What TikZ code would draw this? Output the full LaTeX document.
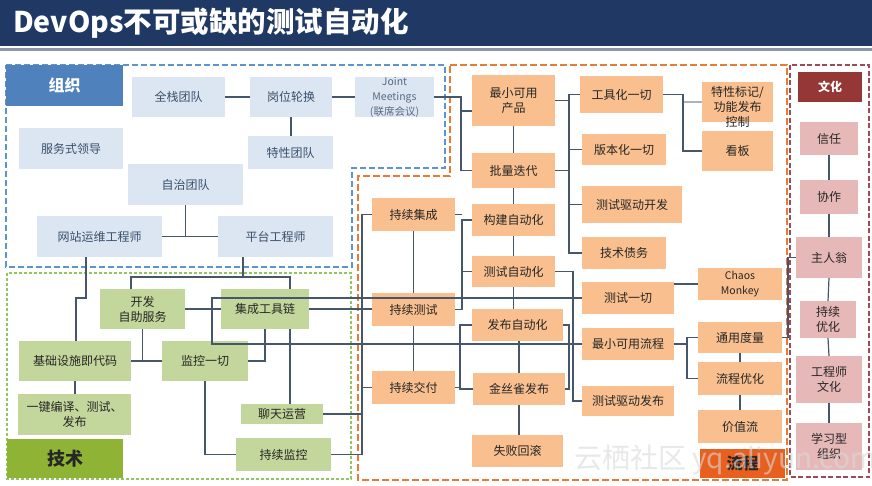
\documentclass[tikz,border=0pt]{standalone}
\usepackage{fontspec}
\setmainfont{Noto Sans CJK SC}
\definecolor{titlebg}{HTML}{1F3864}
\definecolor{titleline}{HTML}{8A97A6}
\definecolor{orgfill}{HTML}{DCE6F2}
\definecolor{orgtext}{HTML}{394F6B}
\definecolor{orglab}{HTML}{4F81BD}
\definecolor{orgdashc}{HTML}{5B93D3}
\definecolor{techfill}{HTML}{C3D69B}
\definecolor{techlab}{HTML}{8FB334}
\definecolor{techdashc}{HTML}{92C760}
\definecolor{procfill}{HTML}{F9BF8F}
\definecolor{procdashc}{HTML}{E97B32}
\definecolor{proclab}{HTML}{E8601F}
\definecolor{cultfill}{HTML}{E6B9B8}
\definecolor{cultlab}{HTML}{953735}
\definecolor{cultdashc}{HTML}{A04A55}
\definecolor{linecol}{HTML}{46566B}
\definecolor{darktext}{HTML}{262626}
\newcommand\bx[7]{\node[#1, minimum width={(#5-#3)*1pt}, minimum height={(#6-#4)*1pt}] (#2) at ({(#3+#5)/2},{(#4+#6)/2}) {#7};}
\tikzset{
  base/.style={inner sep=0pt, outer sep=0pt, align=center, font=\fontsize{12}{15}\selectfont},
  orgbox/.style={base, fill=orgfill, text=orgtext},
  techbox/.style={base, fill=techfill, text=darktext},
  procbox/.style={base, fill=procfill, text=darktext},
  cultbox/.style={base, fill=cultfill, text=darktext},
  small/.style={font=\fontsize{10.5}{15}\selectfont},
  conn/.style={draw=linecol, line width=1.2pt},
  lightconn/.style={draw=linecol!45, line width=1.2pt},
  orgdash/.style={draw=orgdashc, line width=2pt, dash pattern=on 6pt off 3pt},
  techdash/.style={draw=techdashc, line width=1.1pt, dash pattern=on 3pt off 2pt},
  procdash/.style={draw=procdashc, line width=2.4pt, dash pattern=on 7pt off 3pt},
  cultdash/.style={draw=cultdashc, line width=2pt, dash pattern=on 5pt off 2.5pt},
}
\begin{document}
\begin{tikzpicture}[x=1pt,y=-1pt]
\useasboundingbox (0,0) rectangle (872,485);
\fill[white] (0,0) rectangle (872,485);
% title
\fill[titlebg] (0,0) rectangle (872,46);
\fill[titleline] (0,48.3) rectangle (872,50.5);
\node[anchor=west, inner sep=0pt, text=white, font=\fontsize{28.5}{30}\selectfont\bfseries] (title) at (13,23) {DevOps不可或缺的测试自动化};

% regions
\draw[orgdash] (6,65) -- (445,65) -- (445,168) -- (352,168) -- (352,267) -- (6,267) -- cycle;
\draw[techdash] (7,273) rectangle (351,479);
\draw[procdash] (450,65) -- (787,65) -- (787,480) -- (358,480) -- (358,176) -- (450,176) -- cycle;
\draw[cultdash] (790,65) rectangle (869,477);

% region labels
\bx{base, fill=orglab, text=white, font=\fontsize{16}{18}\selectfont\bfseries}{lorg}{6}{65}{123}{106}{组织}
\bx{base, fill=techlab, text=darktext, font=\fontsize{18}{20}\selectfont\bfseries}{ltech}{7}{439}{123}{478}{技术}
\bx{base, fill=proclab, text=darktext, font=\fontsize{16}{18}\selectfont\bfseries}{lproc}{700}{449}{785}{478}{流程}
\bx{base, fill=cultlab, text=white, font=\fontsize{12}{14}\selectfont\bfseries}{lcult}{798}{72}{862}{102}{文化}

% organisation
\bx{orgbox}{qz}{132}{77}{225}{117}{全栈团队}
\bx{orgbox}{gw}{250}{77}{332}{117}{岗位轮换}
\bx{orgbox, small, text=orgtext!85}{jm}{355}{77}{434}{117}{Joint\\Meetings\\(联席会议)}
\bx{orgbox}{tx}{248}{136}{333}{169}{特性团队}
\bx{orgbox}{fw}{19}{128}{123}{169}{服务式领导}
\bx{orgbox}{zz}{128}{164}{243}{205}{自治团队}
\bx{orgbox}{wz}{37}{216}{162}{257}{网站运维工程师}
\bx{orgbox}{pt}{218}{216}{333}{257}{平台工程师}

% technology
\bx{techbox}{kf}{100}{289}{185}{329}{开发\\自助服务}
\bx{techbox}{jt}{221}{289}{309}{329}{集成工具链}
\bx{techbox}{jc}{19}{341}{131}{381}{基础设施即代码}
\bx{techbox}{jk}{162}{341}{248}{381}{监控一切}
\bx{techbox}{yj}{18}{394}{131}{435}{一键编译、测试、\\发布}
\bx{techbox}{lt}{241}{404}{323}{424}{聊天运营}
\bx{techbox}{cj}{236}{438}{331}{471}{持续监控}

% process
\bx{procbox}{mvp}{472}{75}{555}{126}{最小可用\\产品}
\bx{procbox}{pl}{472}{153}{555}{188}{批量迭代}
\bx{procbox}{gj}{472}{204}{555}{236}{构建自动化}
\bx{procbox}{cz}{472}{256}{555}{287}{测试自动化}
\bx{procbox}{fb}{472}{309}{563}{341}{发布自动化}
\bx{procbox}{jq}{473}{373}{565}{405}{金丝雀发布}
\bx{procbox}{sb}{472}{435}{563}{467}{失败回滚}
\bx{procbox}{ji}{372}{198}{455}{231}{持续集成}
\bx{procbox}{cs}{372}{293}{455}{326}{持续测试}
\bx{procbox}{jf}{372}{371}{455}{404}{持续交付}
\bx{procbox}{gjh}{580}{76}{663}{113}{工具化一切}
\bx{procbox}{bbh}{582}{134}{666}{165}{版本化一切}
\bx{procbox}{csk}{582}{186}{682}{223}{测试驱动开发}
\bx{procbox}{jszw}{582}{237}{666}{269}{技术债务}
\bx{procbox}{tb}{702}{82}{773}{122}{}
\node[base, text=darktext] (tbt) at (737.5,107) {特性标记/\\功能发布\\控制};
\bx{procbox}{kb}{702}{131}{773}{171}{看板}
\bx{procbox, small}{chaos}{698}{268}{782}{300}{Chaos\\Monkey}
\bx{procbox}{csy}{582}{282}{674}{314}{测试一切}
\bx{procbox}{zl}{582}{328}{674}{360}{最小可用流程}
\bx{procbox}{csf}{582}{386}{674}{416}{测试驱动发布}
\bx{procbox}{ty}{698}{322}{782}{353}{通用度量}
\bx{procbox}{lc}{698}{362}{782}{395}{流程优化}
\bx{procbox}{jz}{698}{410}{782}{443}{价值流}

% culture
\bx{cultbox}{xr}{800}{122}{858}{155}{信任}
\bx{cultbox}{xz}{800}{180}{858}{214}{协作}
\bx{cultbox}{zr}{796}{237}{862}{278}{主人翁}
\bx{cultbox}{cy}{800}{301}{856}{338}{持续\\优化}
\bx{cultbox}{gc}{796}{356}{862}{403}{工程师\\文化}
\bx{cultbox}{xx}{796}{423}{862}{470}{学习型\\组织}

% ---- connectors: organisation
\draw[conn] (qz.east) -- (gw.west);
\draw[conn] (gw.south) -- (gw.south |- tx.north);
\draw[conn] (gw.east) -- (jm.west);
\draw[conn] (jm.east) -- (461,97) |- (pl.west);
\draw[conn] (461,111) -- (mvp.west |- 461,111);
\draw[conn] (wz.east) -- (pt.west);
\draw[conn] (zz.south) -- (zz.south |- wz.east);
\draw[conn] (wz.south -| 86,0) -- (86,298) -- (76,298) -- (jc.north -| 76,0);
\draw[conn] (pt.south -| 243,0) -- (243,277);
\draw[conn] (kf.north -| 131,0) -- (131,277) -- (290,277) -- (jt.north -| 290,0);

% ---- connectors: technology
\draw[conn] (kf.east) -- (jt.west);
\draw[conn] (jt.east) -- (jt.east -| cs.west);
\draw[conn] (jc.east) -- (jk.west);
\draw[conn] (kf.south) -- (kf.south |- jc.east);
\draw[conn] (jt.south) |- (jk.east);
\draw[conn] (jt.south -| 290,0) -- (lt.north -| 290,0);
\draw[conn] (jk.south) |- (cj.west);
\draw[conn] (jc.south) -- (jc.south |- yj.north);

% ---- connectors: process
\draw[conn] (ji.west) -- (ji.west -| 362,0) -- (cj.east -| 362,0) -- (cj.east);
\draw[conn] (jf.west) -- (jf.west -| 362,0);
\draw[conn] (lt.east) -- (lt.east -| 362,0);
\draw[conn] (ji.south) -- (cs.north);
\draw[conn] (cs.south) -- (jf.north);
\draw[conn] (cs.east) -- (cs.east -| 462,0) |- (gj.west);
\draw[conn] (ji.east) -- (ji.east -| 462,0);
\draw[conn] (cz.west) -- (cz.west -| 462,0);
\draw[conn] (fb.west) -- (fb.west -| 460,0) |- (jq.west);
\draw[conn] (jf.east) -- (jf.east -| 460,0);
\draw[conn] (mvp.south) -- (pl.north);
\draw[conn] (pl.south) -- (gj.north);
\draw[conn] (gj.south) -- (cz.north);
\draw[conn] (cz.south) -- (cz.south |- fb.north);
\draw[conn] (jq.north) -- (jq.north |- fb.south);
\draw[conn] (jq.south) -- (jq.south |- sb.north);
\draw[conn] (gjh.west) -- (gjh.west -| 569,0) |- (jszw.west);
\draw[conn] (bbh.west) -- (bbh.west -| 569,0);
\draw[conn] (csk.west) -- (csk.west -| 569,0);
\draw[conn] (mvp.east) -- (mvp.east -| 569,0);
\draw[conn] (pl.east) -- (pl.east -| 569,0);
\draw[conn] (gjh.east) -- (gjh.east -| 683,0) |- (kb.west);
\draw[lightconn] (tb.west) -- (tb.west -| 684,0);
\draw[conn] (chaos.west) -- (chaos.west -| csy.east);
\draw[conn] (zl.east) -- (zl.east -| 687,0);
\draw[conn] (ty.west) -- (ty.west -| 687,0) |- (lc.west);
\draw[conn] (ty.south) -- (lc.north);
\draw[conn] (lc.south) -- (jz.north);
\draw[conn] (csy.west) -- (csy.west -| 212,0) -- (212,344) -- (zl.west);
\draw[conn] (cz.east) -- (cz.east -| 573,0) |- (csf.west);
\draw[conn] (fb.east) -- (fb.east -| 569,0) |- (jq.east);
\draw[conn] (ty.east) -- (ty.east -| 788,0) |- (zr.west);

% ---- connectors: culture
\draw[conn] (xr.south) -- (xz.north);
\draw[conn] (xz.south) -- (zr.north);
\draw[conn] (zr.south) -- (cy.north);
\draw[conn] (cy.south) -- (gc.north);
\draw[conn] (gc.south) -- (xx.north);

% watermark
\node[anchor=west, inner sep=0pt, text=gray!30, opacity=0.6, font=\fontsize{28}{30}\selectfont] (wm) at (574,460) {云栖社区 yq.aliyun.com};
\end{tikzpicture}
\end{document}
